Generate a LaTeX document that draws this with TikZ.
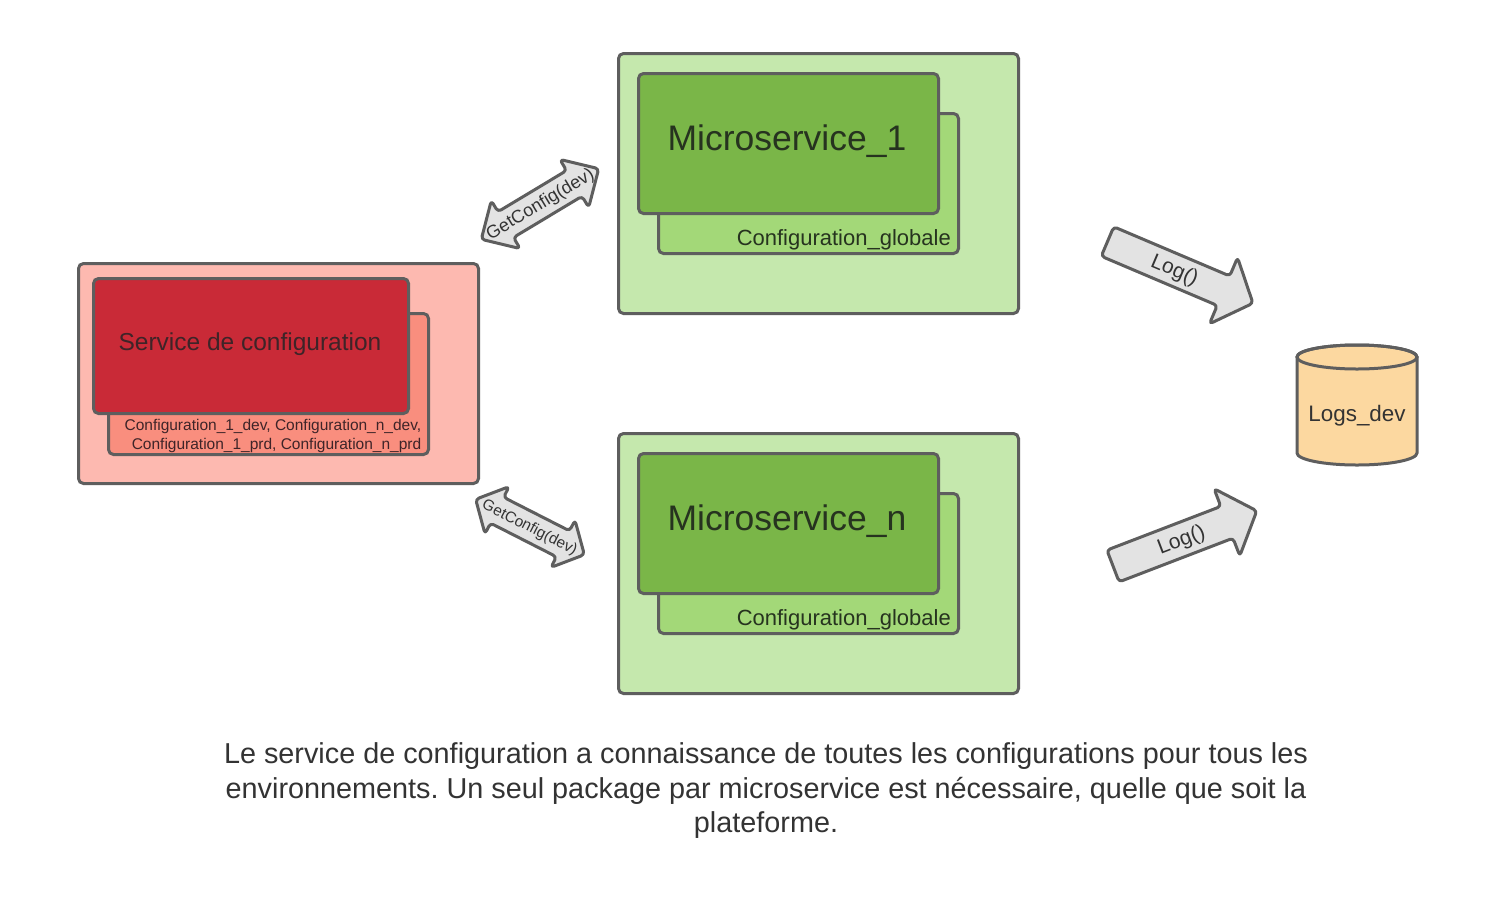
\documentclass[tikz,border=0pt]{standalone}
\usepackage{fontspec}
\setmainfont{Liberation Sans}
\frenchspacing
\definecolor{edge}{HTML}{5E5E5E}
\definecolor{cfgouter}{HTML}{FDB9B0}
\definecolor{cfgback}{HTML}{F98E7E}
\definecolor{cfgfront}{HTML}{C92A37}
\definecolor{cfgtext}{HTML}{3E2428}
\definecolor{msouter}{HTML}{C5E8AD}
\definecolor{msback}{HTML}{A3D878}
\definecolor{msfront}{HTML}{7AB648}
\definecolor{mstext}{HTML}{26331F}
\definecolor{dbfill}{HTML}{FCD8A0}
\definecolor{arrowfill}{HTML}{E3E3E3}
\definecolor{txt}{HTML}{333333}
\tikzset{
  box/.style={draw=edge, line width=3pt, rounded corners=5pt, inner sep=0pt, anchor=north west},
  fatarrow/.style={draw=edge, fill=arrowfill, line width=3pt, rounded corners=3.5pt, line join=round},
  arrowtext/.style={text=txt, inner sep=0pt},
}
\begin{document}
\begin{tikzpicture}[x=1pt,y=-1pt]
\useasboundingbox[fill=white] (0,0) rectangle (1485,900);

% ---------- Service de configuration ----------
\node[box, fill=cfgouter, minimum width=400pt, minimum height=220pt] (cfgout) at (77,262) {};
\node[box, fill=cfgback, minimum width=320pt, minimum height=141pt] (cfgback) at (107,312) {};
\node[box, fill=cfgfront, minimum width=315pt, minimum height=135pt] (cfgfront) at (92,277) {};
\node[font=\fontsize{24.5}{28}\selectfont, text=cfgtext, anchor=base, inner sep=0pt] (cfgtitle) at (250,350) {Service de configuration};
\node[font=\fontsize{15.5}{19}\selectfont, text=cfgtext, align=right, anchor=south east, inner sep=0pt] (cfglist) at (421.5,452.5)
  {Configuration\_1\_dev, Configuration\_n\_dev,\\Configuration\_1\_prd, Configuration\_n\_prd};

% ---------- Microservice_1 ----------
\node[box, fill=msouter, minimum width=400pt, minimum height=260pt] (ms1out) at (617,52) {};
\node[box, fill=msback, minimum width=300pt, minimum height=140pt] (ms1back) at (657,112) {};
\node[box, fill=msfront, minimum width=300pt, minimum height=140pt] (ms1front) at (637,72) {};
\node[font=\fontsize{35.5}{40}\selectfont, text=mstext, anchor=base, inner sep=0pt] (ms1title) at (787,150) {Microservice\_1};
\node[font=\fontsize{22}{26}\selectfont, text=mstext, anchor=base east, inner sep=0pt] (ms1cfg) at (951,245) {Configuration\_globale};

% ---------- Microservice_n ----------
\node[box, fill=msouter, minimum width=400pt, minimum height=260pt] (msnout) at (617,432) {};
\node[box, fill=msback, minimum width=300pt, minimum height=140pt] (msnback) at (657,492) {};
\node[box, fill=msfront, minimum width=300pt, minimum height=140pt] (msnfront) at (637,452) {};
\node[font=\fontsize{35.5}{40}\selectfont, text=mstext, anchor=base, inner sep=0pt] (msntitle) at (787,530) {Microservice\_n};
\node[font=\fontsize{22}{26}\selectfont, text=mstext, anchor=base east, inner sep=0pt] (msncfg) at (951,625) {Configuration\_globale};

% ---------- Logs_dev cylinder ----------
\draw[draw=edge, fill=dbfill, line width=3pt]
  (1297,357) -- (1297,453) arc[start angle=180, end angle=360, x radius=60pt, y radius=12pt]
  -- (1417,357) arc[start angle=0, end angle=180, x radius=60pt, y radius=12pt] -- cycle;
\draw[draw=edge, line width=3pt] (1357,357) ellipse[x radius=60pt, y radius=12pt];
\node[font=\fontsize{22.4}{26}\selectfont, text=txt, anchor=base, inner sep=0pt] (logs) at (1357,421.5) {Logs\_dev};

% ---------- GetConfig double arrows ----------
\begin{scope}[shift={(540,204)}, rotate=31]
  \draw[fatarrow] (-68.5,0) -- (-40,28) -- (-40,15) -- (40,15) -- (40,28) -- (68.5,0)
    -- (40,-28) -- (40,-15) -- (-40,-15) -- (-40,-28) -- cycle;
  \node[arrowtext, font=\fontsize{18}{20}\selectfont, rotate=31] (gc1) at (0,1) {GetConfig(dev)};
\end{scope}
\begin{scope}[shift={(530,527)}, rotate=-27]
  \draw[fatarrow] (-61,0) -- (-37,26.5) -- (-37,14.5) -- (37,14.5) -- (37,26.5) -- (61,0)
    -- (37,-26.5) -- (37,-14.5) -- (-37,-14.5) -- (-37,-26.5) -- cycle;
  \node[arrowtext, font=\fontsize{15.4}{18}\selectfont, rotate=-27] (gc2) at (0,1) {GetConfig(dev)};
\end{scope}

% ---------- Log() arrows ----------
\begin{scope}[shift={(1107.5,241.5)}, rotate=-23]
  \draw[fatarrow] (0,-16) -- (126,-16) -- (126,-36) -- (158,0) -- (126,36) -- (126,16) -- (0,16) -- cycle;
  \node[arrowtext, font=\fontsize{21}{24}\selectfont, rotate=-23] (log1) at (73,1) {Log()};
\end{scope}
\begin{scope}[shift={(1113,566)}, rotate=21]
  \draw[fatarrow] (0,-17) -- (122,-17) -- (122,-36) -- (154,0) -- (122,36) -- (122,17) -- (0,17) -- cycle;
  \node[arrowtext, font=\fontsize{21}{24}\selectfont, rotate=21] (log2) at (73,1) {Log()};
\end{scope}

% ---------- Caption ----------
\node[font=\fontsize{28.8}{34.5}\selectfont, text=txt, align=center, inner sep=0pt] (caption) at (766,791)
  {Le service de configuration a connaissance de toutes les configurations pour tous les\\
   environnements. Un seul package par microservice est nécessaire, quelle que soit la\\
   plateforme.};
\end{tikzpicture}
\end{document}
